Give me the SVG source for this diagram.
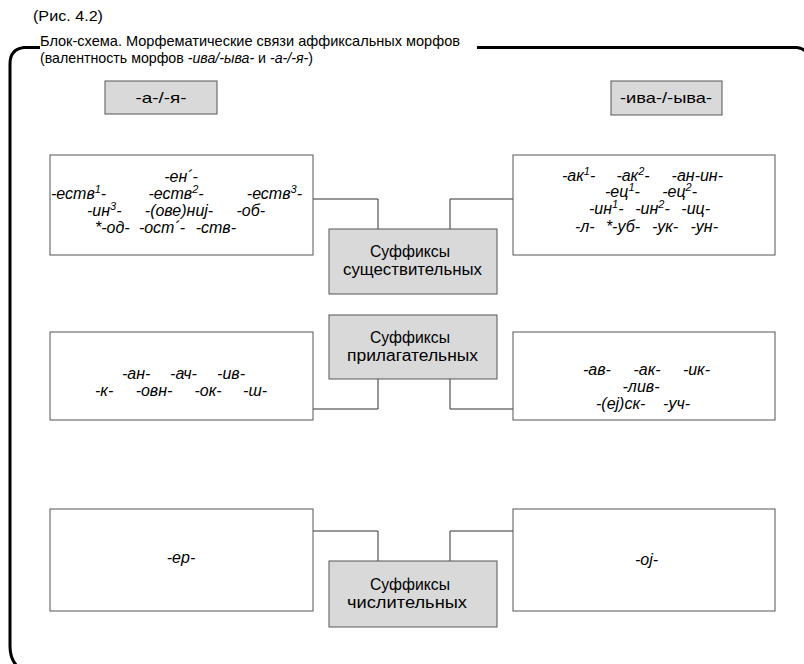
<svg xmlns="http://www.w3.org/2000/svg" width="804" height="664" viewBox="0 0 804 664">
<style>
text{font-family:"Liberation Sans",Arial,sans-serif;fill:#000}
.t{font-size:15px}
.it{font-size:16px;font-style:italic;text-anchor:middle}
.s{text-anchor:start}
.e{text-anchor:end}
.g{fill:#d9d9d9;stroke:#555;stroke-width:1}
.w{fill:#fff;stroke:#555;stroke-width:1}
.gl{font-size:16px;text-anchor:middle}
.sm{font-size:15px;text-anchor:middle}
.c{fill:none;stroke:#333;stroke-width:1}
.f{fill:none;stroke:#000;stroke-width:3}
.sup{font-size:11px}
</style>
<rect width="804" height="664" fill="#fff"/>
<g id="frame">
<path class="f" d="M40 47.5 L24 47.5 Q10 49 10 64 L10 646 Q10 659 17 666"/>
<path class="f" d="M477 47.5 L797 47.5 Q803 48 806 52"/>
</g>
<g id="title">
<text class="t" x="33" y="21" textLength="70" lengthAdjust="spacingAndGlyphs">(Рис. 4.2)</text>
<text class="t" x="40" y="46" textLength="420" lengthAdjust="spacingAndGlyphs">Блок-схема. Морфематические связи аффиксальных морфов</text>
<text class="t" x="40" y="63" textLength="273" lengthAdjust="spacingAndGlyphs">(валентность морфов <tspan font-style="italic">-ива/-ыва-</tspan> и <tspan font-style="italic">-а-/-я-</tspan>)</text>
</g>
<g id="morph-a">
<rect class="g" x="105" y="81" width="112" height="33"/>
<text class="sm" x="161" y="103" textLength="51" lengthAdjust="spacingAndGlyphs">-а-/-я-</text>
</g>
<g id="morph-iva">
<rect class="g" x="611" y="81" width="111" height="34"/>
<text class="sm" x="666" y="103" textLength="92" lengthAdjust="spacingAndGlyphs">-ива-/-ыва-</text>
</g>
<g id="connectors">
<path class="c" d="M313 199 H378 V229"/>
<path class="c" d="M513 199 H450 V229"/>
<path class="c" d="M378 379 V409 H313"/>
<path class="c" d="M450 379 V409 H513"/>
<path class="c" d="M313 531 H378 V561"/>
<path class="c" d="M513 531 H450 V561"/>
</g>
<g id="noun-left">
<rect class="w" x="50" y="155" width="263" height="100"/>
<text class="it" x="181" y="182">-ен´-</text>
<text class="it s" x="51" y="199">-еств<tspan class="sup" dy="-6">1</tspan><tspan dy="6">-</tspan></text>
<text class="it" x="176" y="199">-еств<tspan class="sup" dy="-6">2</tspan><tspan dy="6">-</tspan></text>
<text class="it e" x="302" y="199">-еств<tspan class="sup" dy="-6">3</tspan><tspan dy="6">-</tspan></text>
<text class="it s" x="87" y="216">-ин<tspan class="sup" dy="-6">3</tspan><tspan dy="6">-</tspan></text>
<text class="it" x="179" y="216">-(ове)ниj-</text>
<text class="it e" x="265" y="216">-об-</text>
<text class="it s" x="95" y="233">*-од-</text>
<text class="it" x="162" y="233">-ост´-</text>
<text class="it e" x="236" y="233">-ств-</text>
</g>
<g id="noun-right">
<rect class="w" x="513" y="155" width="262" height="100"/>
<text class="it s" x="562" y="181">-ак<tspan class="sup" dy="-6">1</tspan><tspan dy="6">-</tspan></text>
<text class="it" x="633" y="181">-ак<tspan class="sup" dy="-6">2</tspan><tspan dy="6">-</tspan></text>
<text class="it e" x="723" y="181">-ан-ин-</text>
<text class="it s" x="605" y="197">-ец<tspan class="sup" dy="-6">1</tspan><tspan dy="6">-</tspan></text>
<text class="it e" x="697" y="197">-ец<tspan class="sup" dy="-6">2</tspan><tspan dy="6">-</tspan></text>
<text class="it s" x="589" y="214">-ин<tspan class="sup" dy="-6">1</tspan><tspan dy="6">-</tspan></text>
<text class="it" x="652.5" y="214">-ин<tspan class="sup" dy="-6">2</tspan><tspan dy="6">-</tspan></text>
<text class="it e" x="710" y="214">-иц-</text>
<text class="it s" x="575" y="232">-л-</text>
<text class="it" x="623" y="232">*-уб-</text>
<text class="it" x="665" y="232">-ук-</text>
<text class="it e" x="718" y="232">-ун-</text>
</g>
<g id="noun">
<rect class="g" x="329" y="229" width="168" height="65"/>
<text class="gl" x="410" y="257" textLength="80" lengthAdjust="spacingAndGlyphs">Суффиксы</text>
<text class="gl" x="412.5" y="275" textLength="139" lengthAdjust="spacingAndGlyphs">существительных</text>
</g>
<g id="adj-left">
<rect class="w" x="50" y="332" width="263" height="88"/>
<text class="it s" x="122" y="379">-ан-</text>
<text class="it" x="183.5" y="379">-ач-</text>
<text class="it e" x="245" y="379">-ив-</text>
<text class="it s" x="95" y="396">-к-</text>
<text class="it" x="154" y="396">-овн-</text>
<text class="it" x="208" y="396">-ок-</text>
<text class="it e" x="267" y="396">-ш-</text>
</g>
<g id="adj-right">
<rect class="w" x="513" y="332" width="262" height="88"/>
<text class="it s" x="583" y="375">-ав-</text>
<text class="it" x="647" y="375">-ак-</text>
<text class="it e" x="710" y="375">-ик-</text>
<text class="it" x="641" y="392">-лив-</text>
<text class="it s" x="596" y="409">-(еj)ск-</text>
<text class="it e" x="690" y="409">-уч-</text>
</g>
<g id="adj">
<rect class="g" x="329" y="315" width="168" height="64"/>
<text class="gl" x="410" y="343" textLength="80" lengthAdjust="spacingAndGlyphs">Суффиксы</text>
<text class="gl" x="412.5" y="361" textLength="131" lengthAdjust="spacingAndGlyphs">прилагательных</text>
</g>
<g id="num-left">
<rect class="w" x="50" y="509" width="263" height="102"/>
<text class="it" x="181" y="563">-ер-</text>
</g>
<g id="num-right">
<rect class="w" x="513" y="509" width="262" height="102"/>
<text class="it" x="646.5" y="565">-оj-</text>
</g>
<g id="num">
<rect class="g" x="329" y="561" width="168" height="66"/>
<text class="gl" x="410" y="590" textLength="80" lengthAdjust="spacingAndGlyphs">Суффиксы</text>
<text class="gl" x="407" y="608" textLength="120" lengthAdjust="spacingAndGlyphs">числительных</text>
</g>
</svg>
